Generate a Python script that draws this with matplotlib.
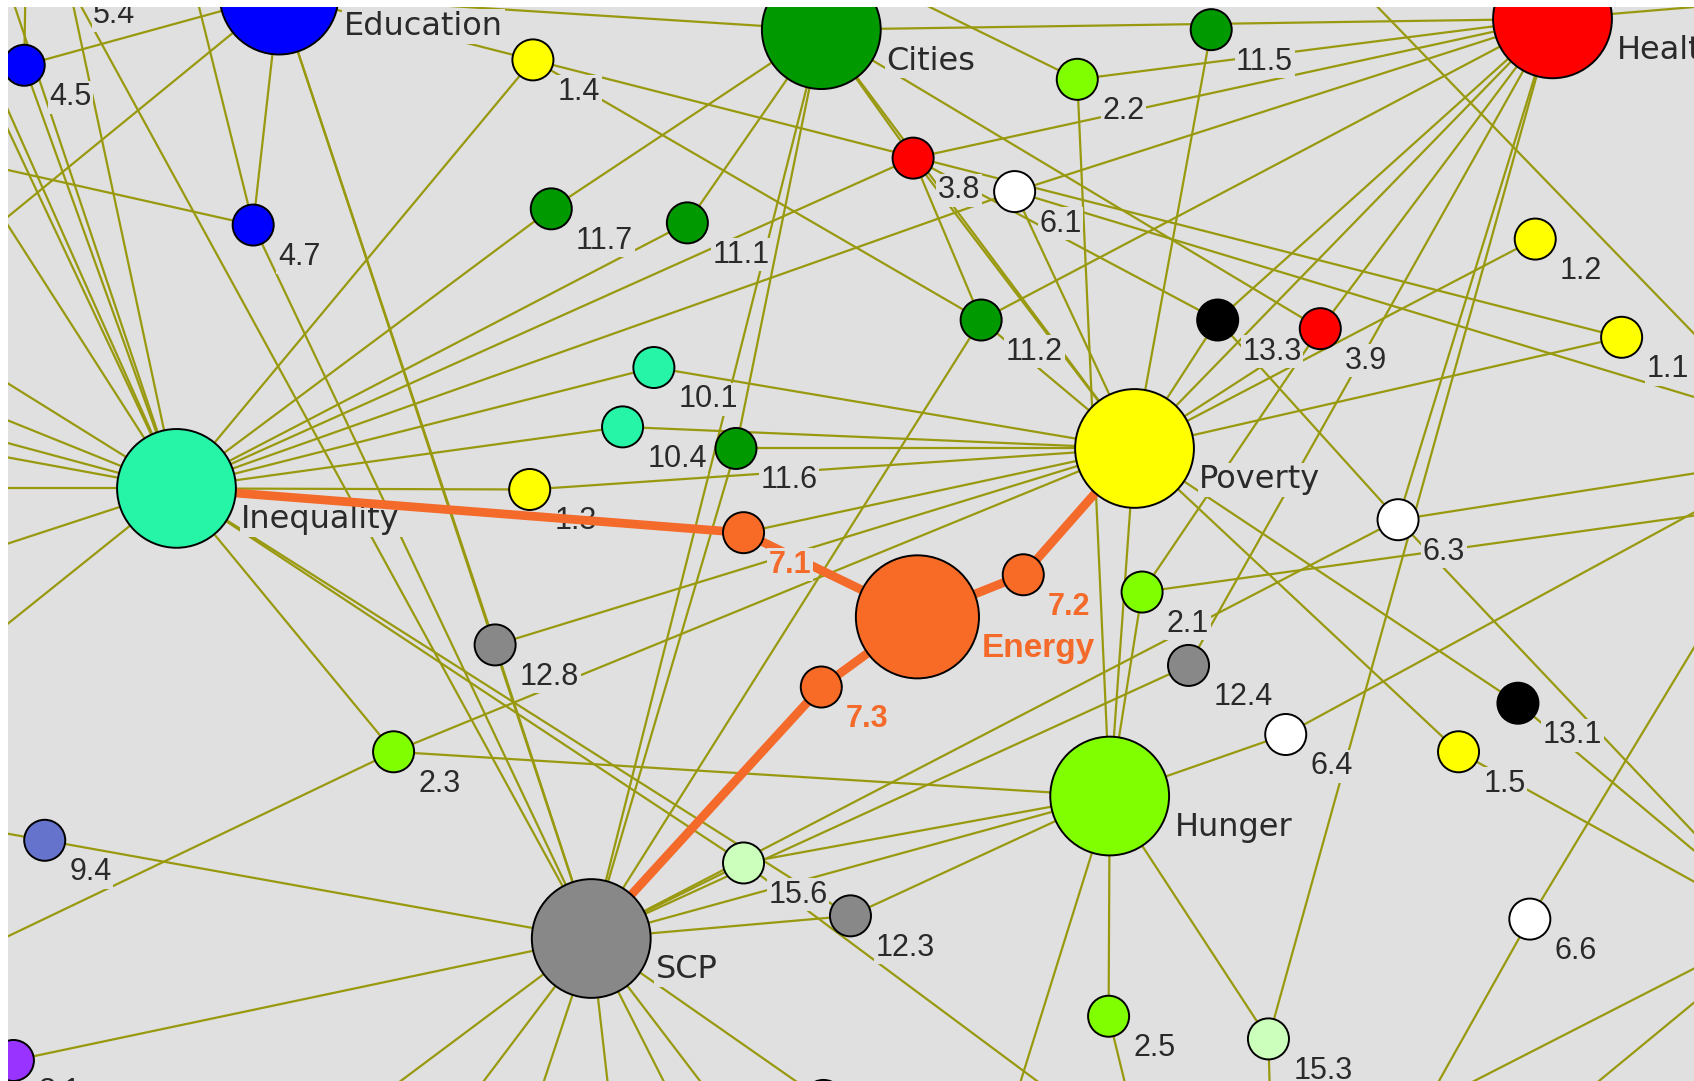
import matplotlib
matplotlib.use("Agg")
import matplotlib.pyplot as plt
from matplotlib.patches import Circle
from matplotlib import font_manager

# layout units are pixels of the reference view (1568 x 1001)
hub_names = ["Education", "Cities", "Health", "Inequality", "Poverty", "Energy", "Hunger", "SCP"]
hub_x = [258, 760, 1437, 163, 1050, 849, 1027, 547]
hub_y = [-5, 27, 17, 452, 415, 571, 737, 869]
hub_goal = [4, 11, 3, 10, 1, 7, 2, 12]

target_names = ["4.5", "5.4", "4.7", "1.4", "11.7", "11.1", "3.8", "6.1", "2.2", "11.5",
                "1.2", "13.3", "3.9", "1.1", "11.2", "10.1", "10.4", "11.6", "1.3", "7.1",
                "7.2", "7.3", "12.8", "2.3", "2.1", "12.4", "6.3", "6.4", "13.1", "1.5",
                "9.4", "15.6", "12.3", "6.6", "2.5", "15.3", "8.1", ""]
target_x = [22, 63, 234, 493, 510, 636, 845, 939, 997, 1121,
            1421, 1127, 1222, 1501, 908, 605, 576, 681, 490, 688,
            947, 760, 458, 364, 1057, 1100, 1294, 1190, 1405, 1350,
            41, 688, 787, 1416, 1026, 1174, 12, 762]
target_y = [60, -16, 208, 55, 193, 206, 146, 177, 73, 27,
            221, 296, 304, 312, 296, 340, 395, 415, 453, 493,
            532, 636, 597, 696, 548, 616, 481, 680, 651, 696,
            778, 799, 848, 851, 941, 962, 982, 1019]
target_goal = [4, 5, 4, 1, 11, 11, 3, 6, 2, 11,
               1, 13, 3, 1, 11, 10, 10, 11, 1, 7,
               7, 7, 12, 2, 2, 12, 6, 6, 13, 1,
               9, 15, 12, 6, 2, 15, 8, 12]

# nodes of the network that sit outside the visible window
off_names = ["qA", "qB", "qC", "qD", "qE", "qF", "qG", "qH", "qI", "qJ", "qK",
             "eA", "e45", "e47t", "e47l", "cA", "cB", "g22", "dA", "dB", "hA",
             "r61", "r63", "r21", "r64", "r15", "r131", "r63b", "r66", "b66",
             "bA", "bB", "bC", "bD", "bHun", "b153", "b156", "b25",
             "s1", "s2", "s3", "s4", "s5", "s6", "l94", "l23"]
off_x = [-152, -56, -2, -60, -60, -60, -60, -60, -60, -60, -60,
         -60, 24, 170, -60, 650, 900, 787, 1250, 1610, 1640,
         1620, 1620, 1620, 1620, 1620, 1620, 1620, 1610, 1310,
         1300, 1640, 1440, 1640, 920, 1177, 1066, 1060,
         265, 388, 477, 571, 654, 708, -60, -60]
off_y = [-40, -40, -40, 313, 362, 392, 411, 452, 525, 631, -23,
         255, -60, -50, 142, -40, -40, -30, -20, 352, 0,
         383, 430, 470, 446, 845, 831, 826, 530, 1040,
         1034, 860, 1034, 869, 1080, 1080, 1080, 1080,
         1080, 1080, 1080, 1080, 1080, 1080, 760, 899]

edges = [
    ("Education", "4.5"), ("Education", "4.7"), ("Education", "SCP"), ("Education", "Cities"),
    ("Education", "1.4"), ("Education", "12.8"), ("Education", "eA"),
    ("4.5", "Inequality"), ("4.5", "e45"), ("5.4", "Inequality"), ("5.4", "SCP"),
    ("4.7", "SCP"), ("4.7", "e47t"), ("4.7", "e47l"),
    ("1.4", "Inequality"), ("1.4", "1.1"), ("1.4", "11.2"),
    ("Inequality", "11.7"), ("Inequality", "11.1"), ("Inequality", "3.8"), ("Inequality", "6.1"),
    ("Inequality", "10.1"), ("Inequality", "10.4"), ("Inequality", "1.3"), ("Inequality", "2.3"),
    ("Inequality", "12.3"), ("Inequality", "15.6"),
    ("Inequality", "qA"), ("Inequality", "qB"), ("Inequality", "qC"), ("Inequality", "qD"),
    ("Inequality", "qE"), ("Inequality", "qF"), ("Inequality", "qG"), ("Inequality", "qH"),
    ("Inequality", "qI"), ("Inequality", "qJ"), ("Inequality", "qK"),
    ("Cities", "11.7"), ("Cities", "11.1"), ("Cities", "11.6"), ("Cities", "3.8"),
    ("Cities", "Poverty"), ("Cities", "3.9"), ("Cities", "Health"), ("Cities", "SCP"),
    ("Cities", "cA"), ("Cities", "cB"),
    ("3.8", "Health"), ("3.8", "11.2"), ("3.8", "Poverty"), ("3.8", "13.3"),
    ("6.1", "Health"), ("6.1", "Poverty"), ("6.1", "r61"),
    ("2.2", "Health"), ("2.2", "Hunger"), ("2.2", "g22"),
    ("11.5", "Poverty"), ("11.2", "Health"), ("11.2", "SCP"), ("11.2", "Poverty"),
    ("Health", "3.9"), ("Health", "12.4"), ("Health", "6.3"), ("Health", "15.3"),
    ("Health", "Poverty"), ("Health", "13.3"), ("Health", "hA"),
    ("Poverty", "10.1"), ("Poverty", "10.4"), ("Poverty", "11.6"), ("Poverty", "1.3"),
    ("Poverty", "7.1"), ("Poverty", "2.3"), ("Poverty", "Hunger"), ("Poverty", "1.2"),
    ("Poverty", "1.1"), ("Poverty", "13.3"), ("Poverty", "3.9"), ("Poverty", "13.1"),
    ("Poverty", "1.5"), ("Poverty", "12.8"),
    ("13.3", "6.3"), ("2.1", "Hunger"), ("2.1", "3.9"), ("2.1", "r21"),
    ("6.3", "r63"), ("6.3", "r63b"),
    ("SCP", "15.6"), ("SCP", "12.3"), ("SCP", "12.4"), ("SCP", "6.3"), ("SCP", "Hunger"),
    ("SCP", "9.4"), ("SCP", "8.1"), ("SCP", "11.6"), ("SCP", "12.8"), ("SCP", ""),
    ("SCP", "s1"), ("SCP", "s2"), ("SCP", "s3"), ("SCP", "s4"), ("SCP", "s5"), ("SCP", "s6"),
    ("Hunger", "6.4"), ("Hunger", "15.3"), ("Hunger", "2.5"), ("Hunger", "2.3"),
    ("Hunger", "12.3"), ("Hunger", "15.6"), ("Hunger", "bHun"),
    ("6.4", "r64"), ("1.5", "r15"), ("13.1", "r131"), ("6.6", "r66"), ("6.6", "b66"),
    ("15.3", "b153"), ("15.6", "b156"), ("2.5", "b25"), ("2.3", "l23"), ("9.4", "l94"),
    ("dA", "dB"), ("bA", "bB"), ("bC", "bD"),
]

highlight = [("Inequality", "7.1"), ("7.1", "Energy"), ("Energy", "7.2"),
             ("7.2", "Poverty"), ("Energy", "7.3"), ("7.3", "SCP")]
focus_goal = 7

goal_colors = {1: "#ffff00", 2: "#80ff00", 3: "#ff0000", 4: "#0000ff", 5: "#ff8080",
               6: "#ffffff", 7: "#f76b27", 8: "#9933ff", 9: "#6673cc", 10: "#26f5a8",
               11: "#009900", 12: "#888888", 13: "#000000", 15: "#ccffbb"}

BG = "#e0e0e0"
OLIVE = "#999910"
ORANGE = "#f46a2a"
INK = "#2a2a2a"

avail = {f.name for f in font_manager.fontManager.ttflist}
if "Liberation Sans Narrow" in avail:
    num_font, num_size = "Liberation Sans Narrow", 26
else:
    num_font, num_size = "Liberation Sans", 22

pos = {}
for n, x, y in zip(hub_names, hub_x, hub_y):
    pos[n] = (x, y)
for n, x, y in zip(target_names, target_x, target_y):
    pos[n] = (x, y)
for n, x, y in zip(off_names, off_x, off_y):
    pos[n] = (x, y)

hot = {n for e in highlight for n in e}

fig = plt.figure(figsize=(16.94, 10.81), dpi=100, facecolor="white")
ax = fig.add_axes([8 / 1694, 0, 1 - 8 / 1694, 1 - 7 / 1081])
ax.set_facecolor(BG)
ax.set_xlim(7, 1568)
ax.set_ylim(1001, 6)
ax.axis("off")
ax.add_patch(plt.Rectangle((7, 6), 1561, 995, facecolor=BG, edgecolor="none", zorder=0))

# plain links
for a, b in edges:
    ax.plot([pos[a][0], pos[b][0]], [pos[a][1], pos[b][1]], color=OLIVE, lw=1.6,
            solid_capstyle="butt", zorder=1)

# highlighted path through Energy
for a, b in highlight:
    ax.plot([pos[a][0], pos[b][0]], [pos[a][1], pos[b][1]], color=ORANGE, lw=6.3,
            solid_capstyle="butt", zorder=5)

lbl_box = dict(boxstyle="square,pad=0.05", facecolor=BG, edgecolor="none")


def draw_node(name, x, y, goal, r, is_hub):
    z = 6 if name in hot else 3
    ax.add_patch(Circle((x, y), r, facecolor=goal_colors[goal], edgecolor="black",
                        lw=1.4, zorder=z))
    if not name:
        return
    dx = 60 if is_hub else 23
    if goal == focus_goal:
        ax.text(x + dx, y + 37, name, color=ORANGE, fontsize=24 if is_hub else 22,
                family="Liberation Sans", weight="bold", ha="left", va="baseline",
                zorder=7, clip_on=True, bbox=lbl_box)
    elif is_hub:
        ax.text(x + dx, y + 37, name, color=INK, fontsize=23, family="DejaVu Sans",
                ha="left", va="baseline", zorder=2, clip_on=True, bbox=lbl_box)
    else:
        ax.text(x + dx, y + 37, name, color=INK, fontsize=num_size, family=num_font,
                ha="left", va="baseline", zorder=2, clip_on=True, bbox=lbl_box)


for n, x, y, g in zip(hub_names, hub_x, hub_y, hub_goal):
    draw_node(n, x, y, g, 57 if n == "Energy" else 55, True)
for n, x, y, g in zip(target_names, target_x, target_y, target_goal):
    draw_node(n, x, y, g, 19, False)

fig.savefig("out.png", dpi=100, facecolor="white")
